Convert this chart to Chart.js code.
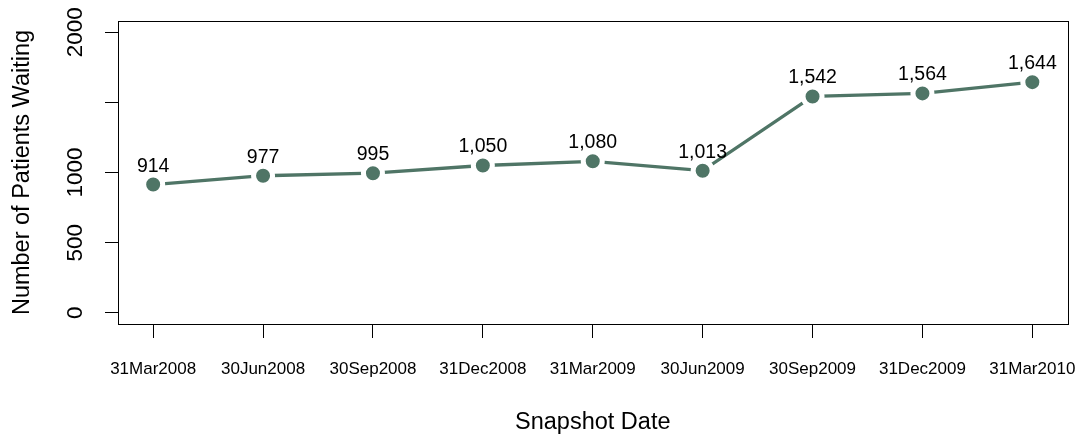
<!DOCTYPE html>
<html>
<head>
<meta charset="utf-8">
<script src="https://cdn.jsdelivr.net/npm/chart.js@4/dist/chart.umd.min.js"></script>
<style>
  body { margin: 0; background: #fff; }
  .wrap { width: 1082px; height: 440px; position: relative; }
</style>
</head>
<body>
<div class="wrap"><canvas id="c"></canvas></div>
<script>
const snapshotDates = ['31Mar2008', '30Jun2008', '30Sep2008', '31Dec2008', '31Mar2009',
                       '30Jun2009', '30Sep2009', '31Dec2009', '31Mar2010'];
const patientsWaiting = [914, 977, 995, 1050, 1080, 1013, 1542, 1564, 1644];
const yTickValues = [0, 500, 1000, 1500, 2000];
const yTickLabels = ['0', '500', '1000', '', '2000']; // R drops the 1500 label

const FONT = "'Liberation Sans', Arial, Helvetica, sans-serif";
const GREEN = '#4f7566';

// frame around the plot region, like R's box()
const boxPlugin = {
  id: 'box',
  afterDraw(chart) {
    const a = chart.chartArea, ctx = chart.ctx;
    ctx.save();
    ctx.strokeStyle = '#000';
    ctx.lineWidth = 1;
    ctx.strokeRect(Math.round(a.left) + 0.5, Math.round(a.top) + 0.5,
                   Math.round(a.right - a.left), Math.round(a.bottom - a.top));
    ctx.restore();
  }
};

// rotated y tick labels (las=0 in R)
const yLabelPlugin = {
  id: 'ylabels',
  afterDraw(chart) {
    const y = chart.scales.y, ctx = chart.ctx;
    ctx.save();
    ctx.fillStyle = '#000';
    ctx.font = '22.5px ' + FONT;
    ctx.textAlign = 'center';
    ctx.textBaseline = 'alphabetic';
    y.ticks.forEach((t, i) => {
      const lbl = yTickLabels[i];
      if (!lbl) return;
      ctx.save();
      ctx.translate(y.left + 82, y.getPixelForValue(t.value));
      ctx.rotate(-Math.PI / 2);
      ctx.fillText(lbl, 0, 0);
      ctx.restore();
    });
    ctx.restore();
  }
};

// value labels above points
const valueLabelPlugin = {
  id: 'valuelabels',
  afterDatasetsDraw(chart) {
    const ctx = chart.ctx;
    const meta = chart.getDatasetMeta(0);
    ctx.save();
    ctx.fillStyle = '#000';
    ctx.font = '19.5px ' + FONT;
    ctx.textAlign = 'center';
    ctx.textBaseline = 'alphabetic';
    meta.data.forEach((pt, i) => {
      ctx.fillText(patientsWaiting[i].toLocaleString('en-US'), pt.x, pt.y - 13);
    });
    ctx.restore();
  }
};

new Chart(document.getElementById('c'), {
  type: 'line',
  data: {
    datasets: [{
      data: patientsWaiting.map((v, i) => ({ x: i + 1, y: v })),
      borderColor: GREEN,
      borderWidth: 3.3,
      backgroundColor: GREEN,
      pointRadius: 9.5,
      pointBorderWidth: 5,
      pointBorderColor: '#fff',
      pointBackgroundColor: GREEN,
      tension: 0
    }]
  },
  options: {
    responsive: true,
    maintainAspectRatio: false,
    animation: false,
    layout: { padding: { top: 21, right: 14, left: 0, bottom: 0 } },
    plugins: { legend: { display: false }, tooltip: { enabled: false } },
    scales: {
      x: {
        type: 'linear',
        bounds: 'data',
        min: 0.68,
        max: 9.32,
        border: { display: false },
        grid: { drawOnChartArea: false, tickLength: 14, color: '#000', lineWidth: 1 },
        afterBuildTicks(scale) {
          scale.ticks = snapshotDates.map((d, i) => ({ value: i + 1 }));
        },
        ticks: {
          autoSkip: false,
          maxRotation: 0,
          padding: 21,
          color: '#000',
          font: { family: FONT, size: 17 },
          callback: v => snapshotDates[v - 1] || ''
        },
        title: {
          display: true,
          text: 'Snapshot Date',
          color: '#000',
          font: { family: FONT, size: 23.5 },
          padding: { top: 0, bottom: 3 }
        },
        afterFit(scale) {
          scale.height = 116;
          scale.paddingLeft = 0;
          scale.paddingRight = 0;
        }
      },
      y: {
        bounds: 'data',
        min: -80,
        max: 2080,
        border: { display: false },
        grid: { drawOnChartArea: false, tickLength: 13, color: '#000', lineWidth: 1 },
        afterBuildTicks(scale) {
          scale.ticks = yTickValues.map(v => ({ value: v }));
        },
        ticks: {
          callback: () => ''
        },
        title: {
          display: true,
          text: 'Number of Patients Waiting',
          color: '#000',
          font: { family: FONT, size: 23.5 },
          padding: { top: 8, bottom: 0 }
        },
        afterFit(scale) {
          scale.width = 118;
          scale.paddingTop = 0;
          scale.paddingBottom = 0;
        }
      }
    }
  },
  plugins: [boxPlugin, yLabelPlugin, valueLabelPlugin]
});
</script>
</body>
</html>
